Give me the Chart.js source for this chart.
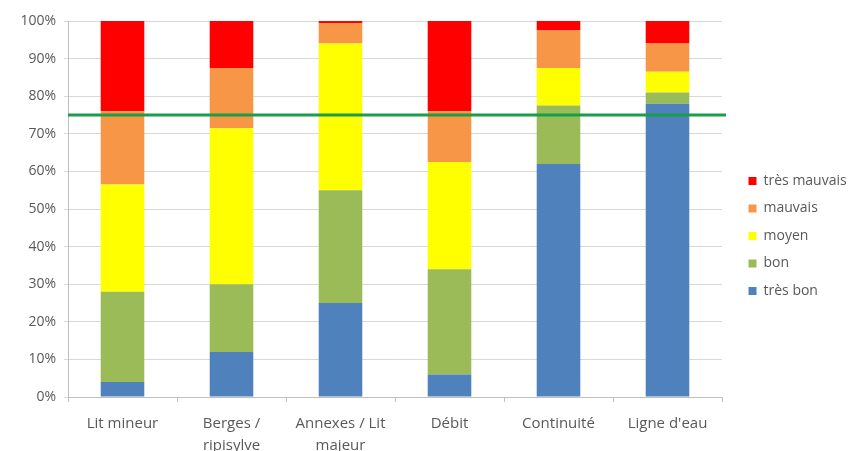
<!DOCTYPE html>
<html><head><meta charset="utf-8">
<script src="https://cdn.jsdelivr.net/npm/chart.js@4/dist/chart.umd.min.js"></script>
<style>
html,body{margin:0;padding:0;background:#fff;overflow:hidden}
#c{display:block}
</style></head><body>
<canvas id="c" width="862" height="451" style="width:862px;height:451px"></canvas>
<script>
const categories = [["Lit mineur"], ["Berges /", "ripisylve"], ["Annexes / Lit", "majeur"], ["Débit"], ["Continuité"], ["Ligne d'eau"]];
const seriesNames = ["très bon", "bon", "moyen", "mauvais", "très mauvais"];
const tresBon     = [4, 12, 25, 6, 62, 78];
const bon         = [24, 18, 30, 28, 15.5, 3];
const moyen       = [28.5, 41.5, 39, 28.5, 10, 5.5];
const mauvais     = [19.5, 16, 5.5, 13.5, 10, 7.5];
const tresMauvais = [24, 12.5, 0.5, 24, 2.5, 6];
const threshold = 75;
const colors = ["#4F81BD", "#9BBB59", "#FFFF00", "#F79646", "#FF0000"];
const yTicks = [0,10,20,30,40,50,60,70,80,90,100];

const seriesValues = [tresBon, bon, moyen, mauvais, tresMauvais];

const thresholdPlugin = {
  id: 'threshold',
  afterDatasetsDraw(chart) {
    const {ctx, chartArea, scales} = chart;
    const y = scales.y.getPixelForValue(threshold);
    ctx.save();
    ctx.strokeStyle = '#1A9E4A';
    ctx.lineWidth = 3;
    ctx.beginPath();
    ctx.moveTo(chartArea.left, y);
    ctx.lineTo(chartArea.right + 4, y);
    ctx.stroke();
    ctx.restore();
  }
};

const legendLayoutPlugin = {
  id: 'legendLayout',
  beforeLayout(chart) {
    const lg = chart.legend;
    if (lg && !lg.__patched) {
      const f = lg.fit;
      lg.fit = function () { f.call(this); this.width = 140; };
      lg.__patched = true;
    }
  },
  afterLayout(chart) {
    const lg = chart.legend;
    if (lg) { lg.left += 13; lg.right += 13; }
  }
};

new Chart(document.getElementById('c'), {
  type: 'bar',
  data: {
    labels: categories,
    datasets: seriesNames.map((n, i) => ({
      label: n,
      data: seriesValues[i],
      backgroundColor: colors[i],
      borderWidth: 0,
      barPercentage: 0.4,
      categoryPercentage: 1
    }))
  },
  options: {
    responsive: false,
    animation: false,
    layout: { padding: { top: 21, right: 0, left: 0, bottom: 0 } },
    plugins: {
      legend: {
        position: 'right',
        reverse: true,
        labels: {
          boxWidth: 8, boxHeight: 8, padding: 13.5,
          color: '#595959',
          font: { family: 'Open Sans', size: 14 }
        }
      },
      tooltip: { enabled: false }
    },
    scales: {
      x: {
        stacked: true,
        offset: true,
        grid: { display: true, offset: true, drawOnChartArea: false, drawTicks: true, tickLength: 5, color: '#bfbfbf' },
        border: { color: '#bfbfbf' },
        ticks: { color: '#595959', font: { family: 'Open Sans', size: 15, lineHeight: 1.5 }, padding: 10, maxRotation: 0, autoSkip: false },
        afterFit(scale) { scale.height = 54; }
      },
      y: {
        stacked: true,
        min: 0, max: 100,
        afterBuildTicks(scale) { scale.ticks = yTicks.map(v => ({ value: v })); },
        grid: { color: '#d9d9d9', tickLength: 4 },
        border: { color: '#bfbfbf' },
        ticks: { color: '#595959', font: { family: 'Open Sans', size: 14 }, padding: 8, callback: v => v + '%' },
        afterFit(scale) { scale.width = 68; }
      }
    }
  },
  plugins: [thresholdPlugin, legendLayoutPlugin]
});
</script>
</body></html>
